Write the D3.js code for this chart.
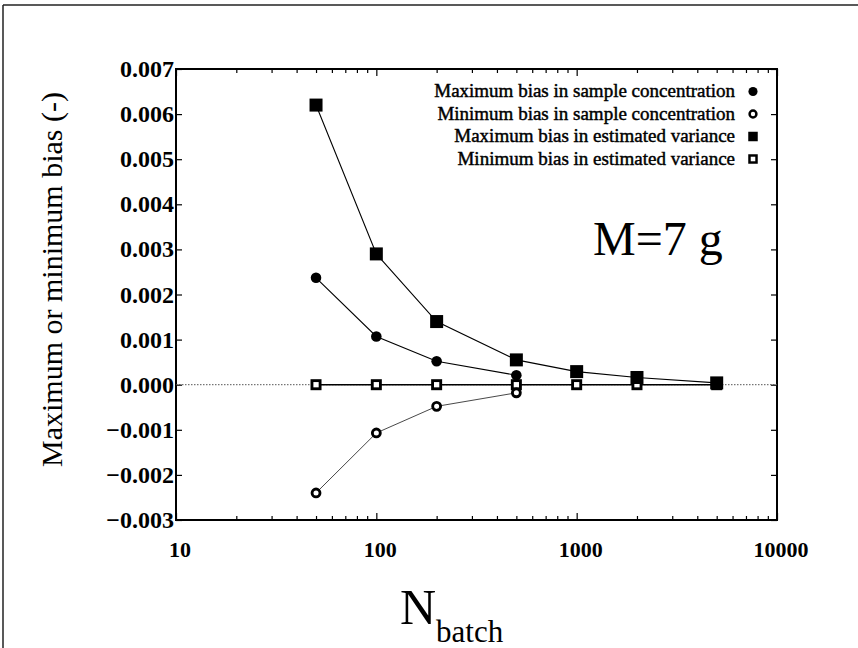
<!DOCTYPE html>
<html>
<head>
<meta charset="utf-8">
<script src="https://cdn.jsdelivr.net/npm/d3@7"></script>
<style>
  body { margin: 0; background: #fff; }
  svg text { font-family: "Liberation Serif", "Times New Roman", serif; fill: #000; }
</style>
</head>
<body>
<div id="chart"></div>
<script>
//---------------------- data ----------------------//
var nBatch      = [50, 100, 200, 500, 1000, 2000, 5000];
var maxConc     = [0.00237, 0.00107, 0.00052, 0.00021];
var minConc     = [-0.0024, -0.00107, -0.00048, -0.00018];
var maxVar      = [0.0062, 0.0029, 0.0014, 0.00055, 0.00029, 0.00016, 0.00004];
var minVar      = [0, 0, 0, 0, 0, 0, 0];
var xTicks      = [10, 100, 1000, 10000];
var yTicks      = [-0.003, -0.002, -0.001, 0, 0.001, 0.002, 0.003, 0.004, 0.005, 0.006, 0.007];
var legendNames = ['Maximum bias in sample concentration', 'Minimum bias in sample concentration',
                   'Maximum bias in estimated variance', 'Minimum bias in estimated variance'];
var legendMarks = ['fcircle', 'ocircle', 'fsquare', 'osquare'];
//--------------------------------------------------//

var width = 858, height = 648;
var plotLeft = 176, plotRight = 777, plotTop = 69, plotBottom = 520;

var svg = d3.select('#chart').append('svg')
            .attr('width', width)
            .attr('height', height);

// page frame (scan border)
svg.append('line').attr('x1', 3).attr('x2', 3).attr('y1', 5).attr('y2', height)
   .attr('stroke', '#222').attr('stroke-width', 1.5);
svg.append('line').attr('x1', 3).attr('x2', width).attr('y1', 5).attr('y2', 5)
   .attr('stroke', '#222').attr('stroke-width', 1.5);

//------------------ scales ------------------------//
var x = d3.scaleLog().domain([10, 10000]).range([plotLeft, plotRight]);
var y = d3.scaleLinear().domain([-0.003, 0.007]).range([plotBottom, plotTop]);

var minorX = [];
[10, 100, 1000].forEach(function(d){
  for (var k = 2; k <= 9; k++) minorX.push(d * k);
});

//------------------ axes --------------------------//
var xAxisB  = d3.axisBottom(x).tickValues(xTicks).tickSize(-7).tickFormat('');
var xAxisBm = d3.axisBottom(x).tickValues(minorX).tickSize(-4).tickFormat('');
var xAxisT  = d3.axisTop(x).tickValues(xTicks).tickSize(-7).tickFormat('');
var xAxisTm = d3.axisTop(x).tickValues(minorX).tickSize(-4).tickFormat('');
var yAxisL  = d3.axisLeft(y).tickValues(yTicks).tickSize(-6).tickFormat('');
var yAxisR  = d3.axisRight(y).tickValues(yTicks).tickSize(-6).tickFormat('');

function styleAxis(g){
  g.select('.domain').remove();
  g.selectAll('line').attr('stroke', '#000').attr('stroke-width', 1.2);
}
svg.append('g').attr('transform', 'translate(0,' + plotBottom + ')').call(xAxisB).call(styleAxis);
svg.append('g').attr('transform', 'translate(0,' + plotBottom + ')').call(xAxisBm).call(styleAxis);
svg.append('g').attr('transform', 'translate(0,' + plotTop + ')').call(xAxisT).call(styleAxis);
svg.append('g').attr('transform', 'translate(0,' + plotTop + ')').call(xAxisTm).call(styleAxis);
svg.append('g').attr('transform', 'translate(' + plotLeft + ',0)').call(yAxisL).call(styleAxis);
svg.append('g').attr('transform', 'translate(' + plotRight + ',0)').call(yAxisR).call(styleAxis);

svg.append('rect')
   .attr('x', plotLeft).attr('y', plotTop)
   .attr('width', plotRight - plotLeft).attr('height', plotBottom - plotTop)
   .attr('fill', 'none').attr('stroke', '#000').attr('stroke-width', 2);

// tick labels
svg.selectAll('.ylab').data(yTicks).enter().append('text')
   .attr('class', 'ylab')
   .attr('x', plotLeft - 2)
   .attr('y', function(d){ return y(d) + 8; })
   .attr('text-anchor', 'end')
   .style('font-size', '24px').style('font-weight', 'bold')
   .text(function(d){ return d3.format('.3f')(d); });

svg.selectAll('.xlab').data(xTicks).enter().append('text')
   .attr('class', 'xlab')
   .attr('x', function(d){ return x(d) + 4; })
   .attr('y', 557)
   .attr('text-anchor', 'middle')
   .style('font-size', '22px').style('font-weight', 'bold')
   .text(function(d){ return d; });

// zero reference line
svg.append('line')
   .attr('x1', plotLeft).attr('x2', plotRight)
   .attr('y1', y(0)).attr('y2', y(0))
   .attr('stroke', '#555').attr('stroke-width', 1)
   .attr('stroke-dasharray', '1.5,1.5');

//------------------ series ------------------------//
var line = d3.line()
             .x(function(d){ return x(d[0]); })
             .y(function(d){ return y(d[1]); });

function pairs(vals){ return vals.map(function(v, i){ return [nBatch[i], v]; }); }

var series = [
  {data: pairs(minVar),  mark: 'osquare', lw: 1.6, col: '#000'},
  {data: pairs(minConc), mark: 'ocircle', lw: 0.9, col: '#333'},
  {data: pairs(maxConc), mark: 'fcircle', lw: 1.1, col: '#000'},
  {data: pairs(maxVar),  mark: 'fsquare', lw: 1.1, col: '#000'}
];

function drawMark(g, kind, cx, cy, s){
  if (kind === 'fcircle'){
    g.append('circle').attr('cx', cx).attr('cy', cy).attr('r', s * 0.48).attr('fill', '#000');
  } else if (kind === 'ocircle'){
    g.append('circle').attr('cx', cx).attr('cy', cy).attr('r', s * 0.36)
     .attr('fill', '#fff').attr('stroke', '#000').attr('stroke-width', s * 0.26);
  } else if (kind === 'fsquare'){
    g.append('rect').attr('x', cx - s / 2).attr('y', cy - s / 2)
     .attr('width', s).attr('height', s).attr('fill', '#000');
  } else {
    var w = s * 0.74;
    g.append('rect').attr('x', cx - w / 2).attr('y', cy - w / 2)
     .attr('width', w).attr('height', w)
     .attr('fill', '#fff').attr('stroke', '#000').attr('stroke-width', s * 0.26);
  }
}

series.forEach(function(s){
  svg.append('path').datum(s.data)
     .attr('d', line)
     .attr('fill', 'none')
     .attr('stroke', s.col)
     .attr('stroke-width', s.lw);
});
series.forEach(function(s){
  var g = svg.append('g');
  s.data.forEach(function(d){
    drawMark(g, s.mark, x(d[0]), y(d[1]), s.mark === 'fsquare' ? 13 : 11);
  });
});

//------------------ legend ------------------------//
var legend = svg.append('g');
legendNames.forEach(function(name, i){
  var ly = 91.5 + i * 22.5;
  legend.append('text')
        .attr('x', 735).attr('y', ly + 5.5)
        .attr('text-anchor', 'end')
        .style('font-size', '19px')
        .style('stroke', '#000').style('stroke-width', 0.45)
        .text(name);
  drawMark(legend, legendMarks[i], 753, ly, 9.5);
});

svg.append('text')
   .attr('x', 593).attr('y', 255)
   .style('font-size', '48px')
   .text('M=7 g');

//------------------ axis titles -------------------//
svg.append('text')
   .attr('transform', 'translate(62,' + ((plotTop + plotBottom) / 2 - 15) + ') rotate(-90)')
   .attr('text-anchor', 'middle')
   .style('font-size', '30px')
   .text('Maximum or minimum bias (-)');

var xt = svg.append('text')
            .attr('x', 400).attr('y', 624)
            .style('font-size', '50px');
xt.append('tspan').text('N');
xt.append('tspan').attr('dy', 18).style('font-size', '31px').text('batch');
</script>
</body>
</html>
